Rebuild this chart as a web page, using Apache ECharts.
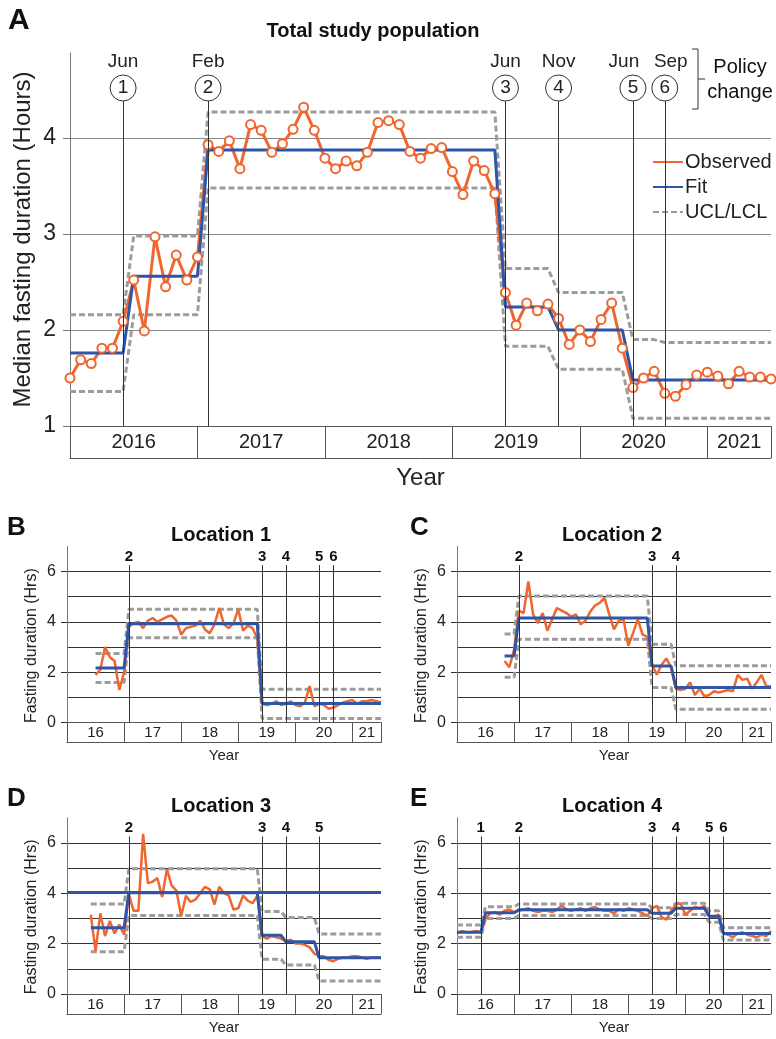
<!DOCTYPE html>
<html><head><meta charset="utf-8">
<script src="https://cdn.jsdelivr.net/npm/echarts@6/dist/echarts.min.js"></script>
<style>html,body{margin:0;padding:0;background:#fff}#c{width:776px;height:1039px}</style>
</head><body><div id="c"></div><script>
// ---------------- DATA ----------------
const yearsLong = ['2016','2017','2018','2019','2020','2021'];
const yearsShort = ['16','17','18','19','20','21'];
const yearLabelMonths = [6,18,30,42,54,63];   // month index (0 = Jan 2016) at box centre
const yearEdgeMonths = [0,12,24,36,48,60,66];
const yTicksA = [1,2,3,4];
const yTicksSmall = [0,2,4,6];

const policyMonths = [5,13,41,46,53,56];
const policyMonthNames = ['Jun','Feb','Jun','Nov','Jun','Sep'];
const policyNums = ['1','2','3','4','5','6'];

// Panel A: total study population (monthly, from Jan 2016)
const obsAStart = 0;
const obsA = [1.50,1.69,1.65,1.81,1.81,2.09,2.52,1.99,2.97,2.45,2.78,2.52,2.76,
  3.93,3.86,3.97,3.68,4.14,4.08,3.85,3.94,4.09,4.32,4.08,3.79,3.68,3.76,3.71,3.85,4.16,4.18,4.14,3.86,3.79,3.89,3.90,3.65,3.41,3.76,3.66,3.42,
  2.39,2.05,2.28,2.20,2.27,2.12,1.85,2.00,1.88,2.11,2.28,1.81,
  1.40,1.50,1.57,1.34,1.31,1.43,1.53,1.56,1.52,1.44,1.57,1.51,1.51,1.49];
const fitA = [[0,1.76],[5,1.76],[6,2.56],[12,2.56],[13,3.875],[40,3.875],[41,2.24],[45,2.24],[46,2.0],[52,2.0],[53,1.48],[66,1.48]];
const uclA = [[0,2.16],[5,2.16],[6,2.98],[12,2.98],[13,4.27],[40,4.27],[41,2.64],[45,2.64],[46,2.39],[52,2.39],[53,1.90],[55,1.90],[56,1.87],[66,1.87]];
const lclA = [[0,1.36],[5,1.36],[6,2.16],[12,2.16],[13,3.48],[40,3.48],[41,1.83],[45,1.83],[46,1.59],[52,1.59],[53,1.08],[66,1.08]];

// Panel B: Location 1
const obsBStart = 6;
const obsB = [1.9,2.1,3.0,2.6,2.45,1.3,2.0,
  3.8,3.95,4.0,3.75,4.05,4.15,4.0,4.1,4.2,4.25,4.05,3.5,3.75,3.8,3.85,4.05,3.7,3.55,3.9,4.55,3.9,3.75,3.95,4.5,3.65,3.85,3.75,3.35,
  0.75,0.7,0.75,0.85,0.7,0.75,0.85,0.7,0.65,0.8,1.45,0.65,0.75,0.7,0.55,0.6,0.7,0.8,0.85,0.9,0.75,0.85,0.85,0.9,0.85,0.8];
const fitB = [[6,2.17],[12,2.17],[13,3.93],[40,3.93],[41,0.76],[66,0.76]];
const uclB = [[6,2.75],[12,2.75],[13,4.5],[40,4.5],[41,1.33],[66,1.33]];
const lclB = [[6,1.59],[12,1.59],[13,3.37],[40,3.37],[41,0.17],[66,0.17]];

// Panel C: Location 2
const obsCStart = 10;
const obsC = [2.45,2.2,2.9,
  4.45,4.35,5.6,4.3,3.95,4.35,3.65,4.1,4.55,4.45,4.35,4.2,4.3,3.9,4.05,4.4,4.65,4.75,4.95,4.3,3.7,4.05,4.1,3.05,3.55,4.1,3.5,3.4,
  2.3,1.9,2.3,2.55,2.2,
  1.35,1.3,1.35,1.6,1.1,1.35,1.05,1.1,1.25,1.2,1.25,1.3,1.25,1.9,1.7,1.75,1.35,1.6,1.9,1.45,1.45];
const fitC = [[10,2.65],[12,2.65],[13,4.15],[40,4.15],[41,2.25],[45,2.25],[46,1.4],[66,1.4]];
const uclC = [[10,3.52],[12,3.52],[13,5.03],[40,5.03],[41,3.11],[45,3.11],[46,2.26],[66,2.26]];
const lclC = [[10,1.8],[12,1.8],[13,3.31],[40,3.31],[41,1.4],[45,1.4],[46,0.53],[66,0.53]];

// Panel D: Location 3
const obsDStart = 5;
const obsD = [3.15,1.7,3.2,2.3,2.9,2.4,2.75,2.35,
  3.95,3.3,3.3,6.35,4.4,4.45,4.6,3.85,4.95,4.3,4.1,3.1,3.9,3.65,3.75,4.0,4.25,4.15,3.55,4.25,4.0,3.9,3.35,3.4,3.9,3.7,3.6,3.9,
  2.3,2.2,2.3,2.25,2.2,2.1,2.15,2.0,2.0,1.95,1.85,1.6,
  1.5,1.5,1.35,1.3,1.4,1.45,1.45,1.5,1.5,1.45,1.4,1.45,1.45,1.45];
const fitD = [[5,2.63],[12,2.63],[13,4.02],[40,4.02],[41,2.33],[45,2.33],[46,2.07],[52,2.07],[53,1.44],[66,1.44]];
const fitDLevel = 4.02;
const uclD = [[5,3.57],[12,3.57],[13,4.97],[40,4.97],[41,3.27],[45,3.27],[46,3.03],[52,3.03],[53,2.38],[66,2.38]];
const lclD = [[5,1.68],[12,1.68],[13,3.11],[40,3.11],[41,1.38],[45,1.38],[46,1.15],[52,1.15],[53,0.52],[66,0.52]];

// Panel E: Location 4
const obsEStart = 0;
const obsE = [2.4,2.5,2.45,2.45,2.5,2.45,
  3.0,3.2,3.25,3.15,3.3,3.35,3.25,
  3.3,3.35,3.4,3.3,3.25,3.3,3.3,3.25,3.35,3.5,3.35,3.3,3.35,3.4,3.3,3.4,3.45,3.35,3.3,3.3,3.2,3.35,3.3,3.4,3.35,3.3,3.2,3.1,
  3.4,3.5,3.05,2.95,3.3,
  3.55,3.6,3.15,3.3,3.45,3.4,3.5,
  3.1,3.05,3.15,
  2.4,2.35,2.25,2.4,2.45,2.35,2.3,2.25,2.35,2.3,2.5];
const fitE = [[0,2.45],[5,2.45],[6,3.22],[12,3.22],[13,3.34],[40,3.34],[41,3.2],[45,3.2],[46,3.4],[52,3.4],[53,3.08],[55,3.08],[56,2.4],[66,2.4]];
const uclE = [[0,2.74],[5,2.74],[6,3.46],[12,3.46],[13,3.57],[40,3.57],[41,3.42],[45,3.42],[46,3.6],[52,3.6],[53,3.3],[55,3.3],[56,2.63],[66,2.63]];
const lclE = [[0,2.25],[5,2.25],[6,3.0],[12,3.0],[13,3.11],[40,3.11],[41,3.0],[45,3.0],[46,3.15],[52,3.15],[53,2.85],[55,2.85],[56,2.14],[66,2.14]];

// ---------------- STYLE / LAYOUT ----------------
const FONT = "'Liberation Sans', Arial, sans-serif";
const ORANGE = '#f0662f', BLUE = '#2f55a8', GRAY = '#9c9c9c';
// horizontal nudges for crowded month labels (px padding left/right)
const monthPad = {5:[0,18,0,0], 6:[0,0,0,12]};

const panels = [
  {key:'A', rect:{left:70, top:53, width:701, height:373}, ymin:1, ymax:4.885, main:true, yticks:yTicksA,
   obs:obsA, obsStart:obsAStart, fit:fitA, ucl:uclA, lcl:lclA, policy:[1,2,3,4,5,6], policyTop:4.385},
  {key:'B', rect:{left:67, top:546.5, width:314, height:176.2}, ymin:0, ymax:6.99, yticks:yTicksSmall,
   obs:obsB, obsStart:obsBStart, fit:fitB, ucl:uclB, lcl:lclB, policy:[2,3,4,5,6], policyTop:6.25},
  {key:'C', rect:{left:457, top:546.5, width:314, height:176.2}, ymin:0, ymax:6.99, yticks:yTicksSmall,
   obs:obsC, obsStart:obsCStart, fit:fitC, ucl:uclC, lcl:lclC, policy:[2,3,4], policyTop:6.25},
  {key:'D', rect:{left:67, top:817.8, width:314, height:176.2}, ymin:0, ymax:6.99, yticks:yTicksSmall,
   obs:obsD, obsStart:obsDStart, fit:fitD, ucl:uclD, lcl:lclD, policy:[2,3,4,5], policyTop:6.25, level:fitDLevel},
  {key:'E', rect:{left:457, top:817.8, width:314, height:176.2}, ymin:0, ymax:6.99, yticks:yTicksSmall,
   obs:obsE, obsStart:obsEStart, fit:fitE, ucl:uclE, lcl:lclE, policy:[1,2,3,4,5,6], policyTop:6.25}
];

const grid = [], xAxis = [], yAxis = [], series = [];
panels.forEach((p, gi) => {
  grid.push(Object.assign({containLabel:false, outerBoundsMode:'none'}, p.rect));
  const boxH = p.main ? 32 : 20;
  const xi = xAxis.length;
  xAxis.push({
    gridIndex:gi, type:'value', min:0, max:66, position:'bottom',
    axisLine:{show:true, onZero:false, lineStyle:{color:'#555', width:1}},
    axisTick:{show:true, customValues:yearEdgeMonths, length:boxH, inside:false, lineStyle:{color:'#555', width:1}},
    axisLabel:{show:true, customValues:yearLabelMonths, color:'#222', fontFamily:FONT,
      fontSize:p.main ? 20 : 15, margin:p.main ? 6 : 3,
      formatter:(v)=>{const k=yearLabelMonths.indexOf(v); return k<0?'':(p.main?yearsLong[k]:yearsShort[k]);}},
    splitLine:{show:false}
  });
  xAxis.push({
    gridIndex:gi, type:'value', min:0, max:66, position:'bottom', offset:boxH,
    axisLine:{show:true, onZero:false, lineStyle:{color:'#555', width:1}},
    axisTick:{show:false}, axisLabel:{show:false}, splitLine:{show:false},
    name:'Year', nameLocation:'middle', nameGap:p.main ? 8 : 6, nameMoveOverlap:false,
    nameTextStyle:{fontSize:p.main ? 24 : 15, color:'#222', fontFamily:FONT, verticalAlign:'top'}
  });
  const yi = yAxis.length;
  // axis carrying the line and grid lines
  yAxis.push({
    gridIndex:gi, type:'value', min:p.ymin, max:p.ymax, interval:1,
    axisLine:{show:true, lineStyle:{color:'#777'}},
    axisTick:{show:false}, axisLabel:{show:false},
    splitLine:{show:true, showMaxLine:false, lineStyle:{color:p.main ? '#888' : '#333', width:1}}
  });
  // axis carrying ticks, labels and the name
  yAxis.push({
    gridIndex:gi, type:'value', min:p.ymin, max:p.ymax, interval:1, position:'left',
    axisLine:{show:false},
    axisTick:{show:true, customValues:p.yticks, length:p.main ? 7 : 6, lineStyle:{color:p.main ? '#777' : '#333'}},
    axisLabel:{show:true, customValues:p.yticks, fontSize:p.main ? 23 : 16, color:'#222', margin:p.main ? 14 : 11, fontFamily:FONT},
    splitLine:{show:false},
    name:p.main ? 'Median fasting duration (Hours)' : 'Fasting duration (Hrs)',
    nameLocation:'middle', nameGap:p.main ? 35 : 27, nameMoveOverlap:false,
    nameTextStyle:{fontSize:p.main ? 24 : 16, color:'#222', fontFamily:FONT, padding:p.main ? [0,0,0,0] : [0,22,0,0]}
  });
  // policy lines
  const mlData = p.policy.map(n => {
    const k = n - 1;
    const label = p.main
      ? {show:true, position:'start', distance:0, formatter:'{m' + k + '|' + policyMonthNames[k] + '}\n{c|' + policyNums[k] + '}',
         rich:(function(){
           const r = {c:{fontSize:19, width:26, height:26, lineHeight:26, align:'center', color:'#222', fontFamily:FONT,
                  borderColor:'#333', borderWidth:1, borderRadius:14}};
           r['m' + k] = {fontSize:19, lineHeight:26, color:'#222', fontFamily:FONT, align:'center', padding:monthPad[n] || [0,0,0,0]};
           return r;})()}
      : {show:true, position:'start', distance:1, formatter:policyNums[k], fontSize:15, fontWeight:'bold', color:'#111', fontFamily:FONT};
    return [{xAxis:policyMonths[k], yAxis:p.policyTop, label:label}, {xAxis:policyMonths[k], yAxis:p.ymin}];
  });
  const dashStyle = {color:GRAY, width:3, type:[6,3]};
  const common = {type:'line', xAxisIndex:xi, yAxisIndex:yi, animation:false, silent:true};
  series.push(Object.assign({}, common, {name:'UCL/LCL', data:p.ucl, symbol:'none', lineStyle:dashStyle,
    markLine:{symbol:['none','none'], silent:true, animation:false, lineStyle:{color:'#333', width:1, type:'solid'},
      emphasis:{disabled:true}, data:mlData}}));
  series.push(Object.assign({}, common, {name:'UCL/LCL', data:p.lcl, symbol:'none', lineStyle:dashStyle}));
  series.push(Object.assign({}, common, {name:'Observed', data:p.obs.map((v,i)=>[p.obsStart+i, v]),
    symbol:p.main ? 'emptyCircle' : 'none', symbolSize:9, showSymbol:!!p.main,
    itemStyle:{color:ORANGE, borderWidth:1.6},
    lineStyle:{color:ORANGE, width:p.main ? 3 : 2.5}}));
  const fitSeries = Object.assign({}, common, {name:'Fit', data:p.fit, symbol:'none', lineStyle:{color:BLUE, width:3}});
  if (p.level !== undefined) {
    fitSeries.markLine = {symbol:['none','none'], silent:true, animation:false, label:{show:false},
      lineStyle:{color:BLUE, width:3, type:'solid'}, data:[{yAxis:p.level}]};
  }
  series.push(fitSeries);
});

function txt(x, y, text, size, bold, align) {
  return {type:'text', x:x, y:y, z:100, style:{text:text, fill:'#111', fontSize:size, fontWeight:bold?'bold':'normal',
    fontFamily:FONT, textAlign:align||'center', textVerticalAlign:'middle'}};
}

const option = {
  animation:false,
  backgroundColor:'#fff',
  textStyle:{fontFamily:FONT},
  grid:grid, xAxis:xAxis, yAxis:yAxis, series:series,
  legend:{data:['Observed','Fit','UCL/LCL'], orient:'vertical', left:648, top:150, itemWidth:30, itemHeight:14, itemGap:5,
    textStyle:{fontSize:20, color:'#222', fontFamily:FONT, padding:[0,0,0,-3]}, backgroundColor:'#fff', padding:[2,4,8,4],
    itemStyle:{opacity:0}, selectedMode:false},
  graphic:[
    txt(8, 21, 'A', 30, true, 'left'),
    txt(373, 31, 'Total study population', 20, true),
    txt(740, 67, 'Policy', 20, false),
    txt(740, 92, 'change', 20, false),
    {type:'polyline', z:100, shape:{points:[[692,49],[698,49],[698,109],[692,109]]}, style:{stroke:'#333', lineWidth:1, fill:null}},
    {type:'line', z:100, shape:{x1:698, y1:79, x2:705, y2:79}, style:{stroke:'#333', lineWidth:1}},
    txt(7, 528, 'B', 26, true, 'left'),
    txt(221, 535, 'Location 1', 20, true),
    txt(410, 528, 'C', 26, true, 'left'),
    txt(612, 535, 'Location 2', 20, true),
    txt(7, 799, 'D', 26, true, 'left'),
    txt(221, 806, 'Location 3', 20, true),
    txt(410, 799, 'E', 26, true, 'left'),
    txt(612, 806, 'Location 4', 20, true)
  ]
};
const chart = echarts.init(document.getElementById('c'), null, {renderer:'canvas'});
chart.setOption(option);
</script></body></html>
